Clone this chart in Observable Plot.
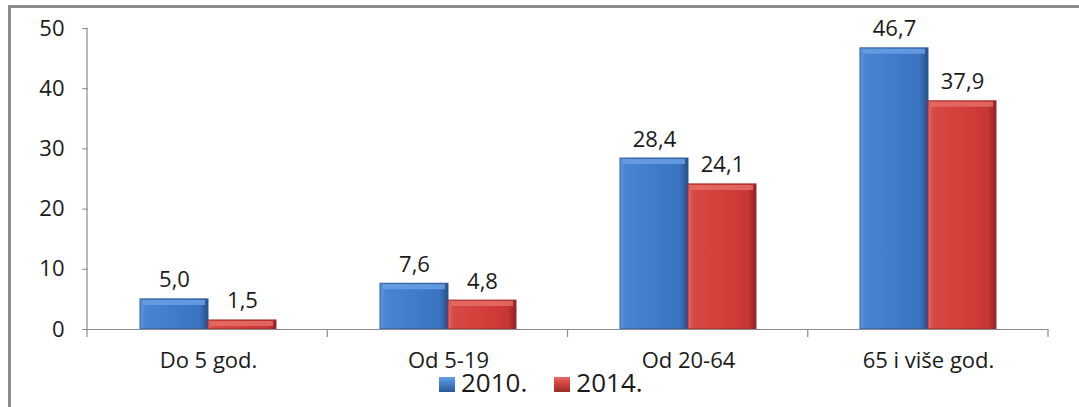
<!DOCTYPE html>
<html>
<head>
<meta charset="utf-8">
<script src="https://cdn.jsdelivr.net/npm/d3@7"></script>
<script src="https://cdn.jsdelivr.net/npm/@observablehq/plot@0.6"></script>
<style>
  html, body { margin: 0; padding: 0; background: #fff; overflow: hidden; }
  #wrap { position: relative; width: 1079px; height: 407px; font-family: "Open Sans", sans-serif; color: #1a1a1a; }
  #frame { position: absolute; left: 8px; top: 5px; width: 1100px; height: 430px;
           border-top: 3px solid #8c8c8c; border-left: 3px solid #8c8c8c; box-sizing: border-box; pointer-events: none; }
  #chart svg { display: block; }
  #legend { position: relative; margin-top: 4px; line-height: 16px; font-size: 26px; padding-left: 439px; white-space: nowrap; }
  .sw { display: inline-block; width: 16px; height: 15px; vertical-align: baseline; margin-right: 6px; }
  .lbl { display: inline-block; line-height: 16px; height: 16px; overflow: visible; vertical-align: baseline; }
  .item { display: inline; margin-right: 27px; }
</style>
</head>
<body>
<div id="wrap">
  <div id="chart"></div>
  <div id="legend"></div>
  <div id="frame"></div>
</div>
<script>
const categories = ["Do 5 god.", "Od 5-19", "Od 20-64", "65 i više god."];
const seriesNames = ["2010.", "2014."];
const values2010 = [5.0, 7.6, 28.4, 46.7];
const values2014 = [1.5, 4.8, 24.1, 37.9];
const yTicks = [0, 10, 20, 30, 40, 50];

const seriesValues = [values2010, values2014];
const data = categories.flatMap((c, i) =>
  seriesNames.map((s, j) => ({category: c, series: s, value: seriesValues[j][i]})));

const fmt = v => v.toFixed(1).replace(".", ",");
const axisGray = "#8c8c8c";
const textColor = "#1a1a1a";
const gradIds = ["gBlue", "gRed"];
const highlight = ["#6a9fe3", "#e56c67"];

const chart = Plot.plot({
  width: 1079,
  height: 370,
  marginLeft: 87,
  marginRight: 31,
  marginTop: 28,
  marginBottom: 41,
  style: {fontFamily: "'Open Sans', sans-serif", fontSize: "22px", color: textColor, background: "transparent", overflow: "visible"},
  fx: {domain: categories, padding: 0, label: null},
  x: {domain: seriesNames, paddingInner: 0, paddingOuter: 0.743, axis: null},
  y: {domain: [0, 50], label: null},
  color: {domain: seriesNames, range: gradIds.map(id => `url(#${id})`)},
  marks: [
    Plot.axisY({ticks: yTicks, tickSize: 6, tickPadding: 18, stroke: axisGray, fill: textColor, fontSize: 22, label: null}),
    Plot.axisFx({anchor: "bottom", tickSize: 0, tickPadding: 23, fill: textColor, fontSize: 22, label: null}),
    Plot.barY(data, {fx: "category", x: "series", y: "value", fill: "series",
      stroke: d => d.series === seriesNames[0] ? "#2c5a98" : "#9a2b28", strokeWidth: 1}),
    Plot.tickY(data, {fx: "category", x: "series", y: "value", dy: 3, insetLeft: 3, insetRight: 3,
      stroke: d => d.series === seriesNames[0] ? highlight[0] : highlight[1], strokeWidth: 5, strokeOpacity: 0.85}),
    Plot.ruleY([0], {stroke: axisGray, strokeWidth: 1.2}),
    Plot.text(data, {fx: "category", x: "series", y: "value", text: d => fmt(d.value),
      dy: -12, lineAnchor: "bottom", fontSize: 22, fill: textColor})
  ]
});
document.getElementById("chart").appendChild(chart);

// gradients
const svg = d3.select(chart);
const defs = svg.insert("defs", ":first-child");
const gradStops = {
  gBlue: [["0%", "#6398dd"], ["7%", "#4a85d2"], ["50%", "#3f7cca"], ["88%", "#3a73c0"], ["100%", "#284f8a"]],
  gRed: [["0%", "#e2706b"], ["7%", "#d84944"], ["50%", "#d33f3b"], ["88%", "#c83734"], ["100%", "#8e2522"]]
};
for (const id of gradIds) {
  const g = defs.append("linearGradient").attr("id", id).attr("x1", 0).attr("x2", 1).attr("y1", 0).attr("y2", 0);
  for (const [o, c] of gradStops[id]) g.append("stop").attr("offset", o).attr("stop-color", c);
}

// y axis line and category boundary ticks (Excel style)
const fxS = chart.scale("fx");
const yS = chart.scale("y");
const y = d3.scaleLinear(yS.domain, yS.range);
const fx = d3.scaleBand(fxS.domain, fxS.range).padding(0);
const x0 = fxS.range[0];
const g = svg.append("g").attr("stroke", axisGray).attr("stroke-width", 1.2);
g.append("line").attr("x1", x0).attr("x2", x0).attr("y1", y(50)).attr("y2", y(0));
const bounds = categories.map(c => fx(c)).concat([fx(categories[categories.length - 1]) + fx.bandwidth()]);
g.selectAll("line.b").data(bounds).join("line").attr("class", "b")
  .attr("x1", d => d).attr("x2", d => d).attr("y1", y(0)).attr("y2", y(0) + 8);

// legend
const swColors = [["#4a85d2", "#2c5a98"], ["#d84944", "#9a2b28"]];
const legend = d3.select("#legend");
seriesNames.forEach((s, i) => {
  const it = legend.append("span").attr("class", "item");
  it.append("span").attr("class", "sw")
    .style("background", `linear-gradient(180deg, ${highlight[i]} 0%, ${swColors[i][0]} 35%, ${swColors[i][1]} 100%)`);
  it.append("span").attr("class", "lbl").text(s);
});
</script>
</body>
</html>
